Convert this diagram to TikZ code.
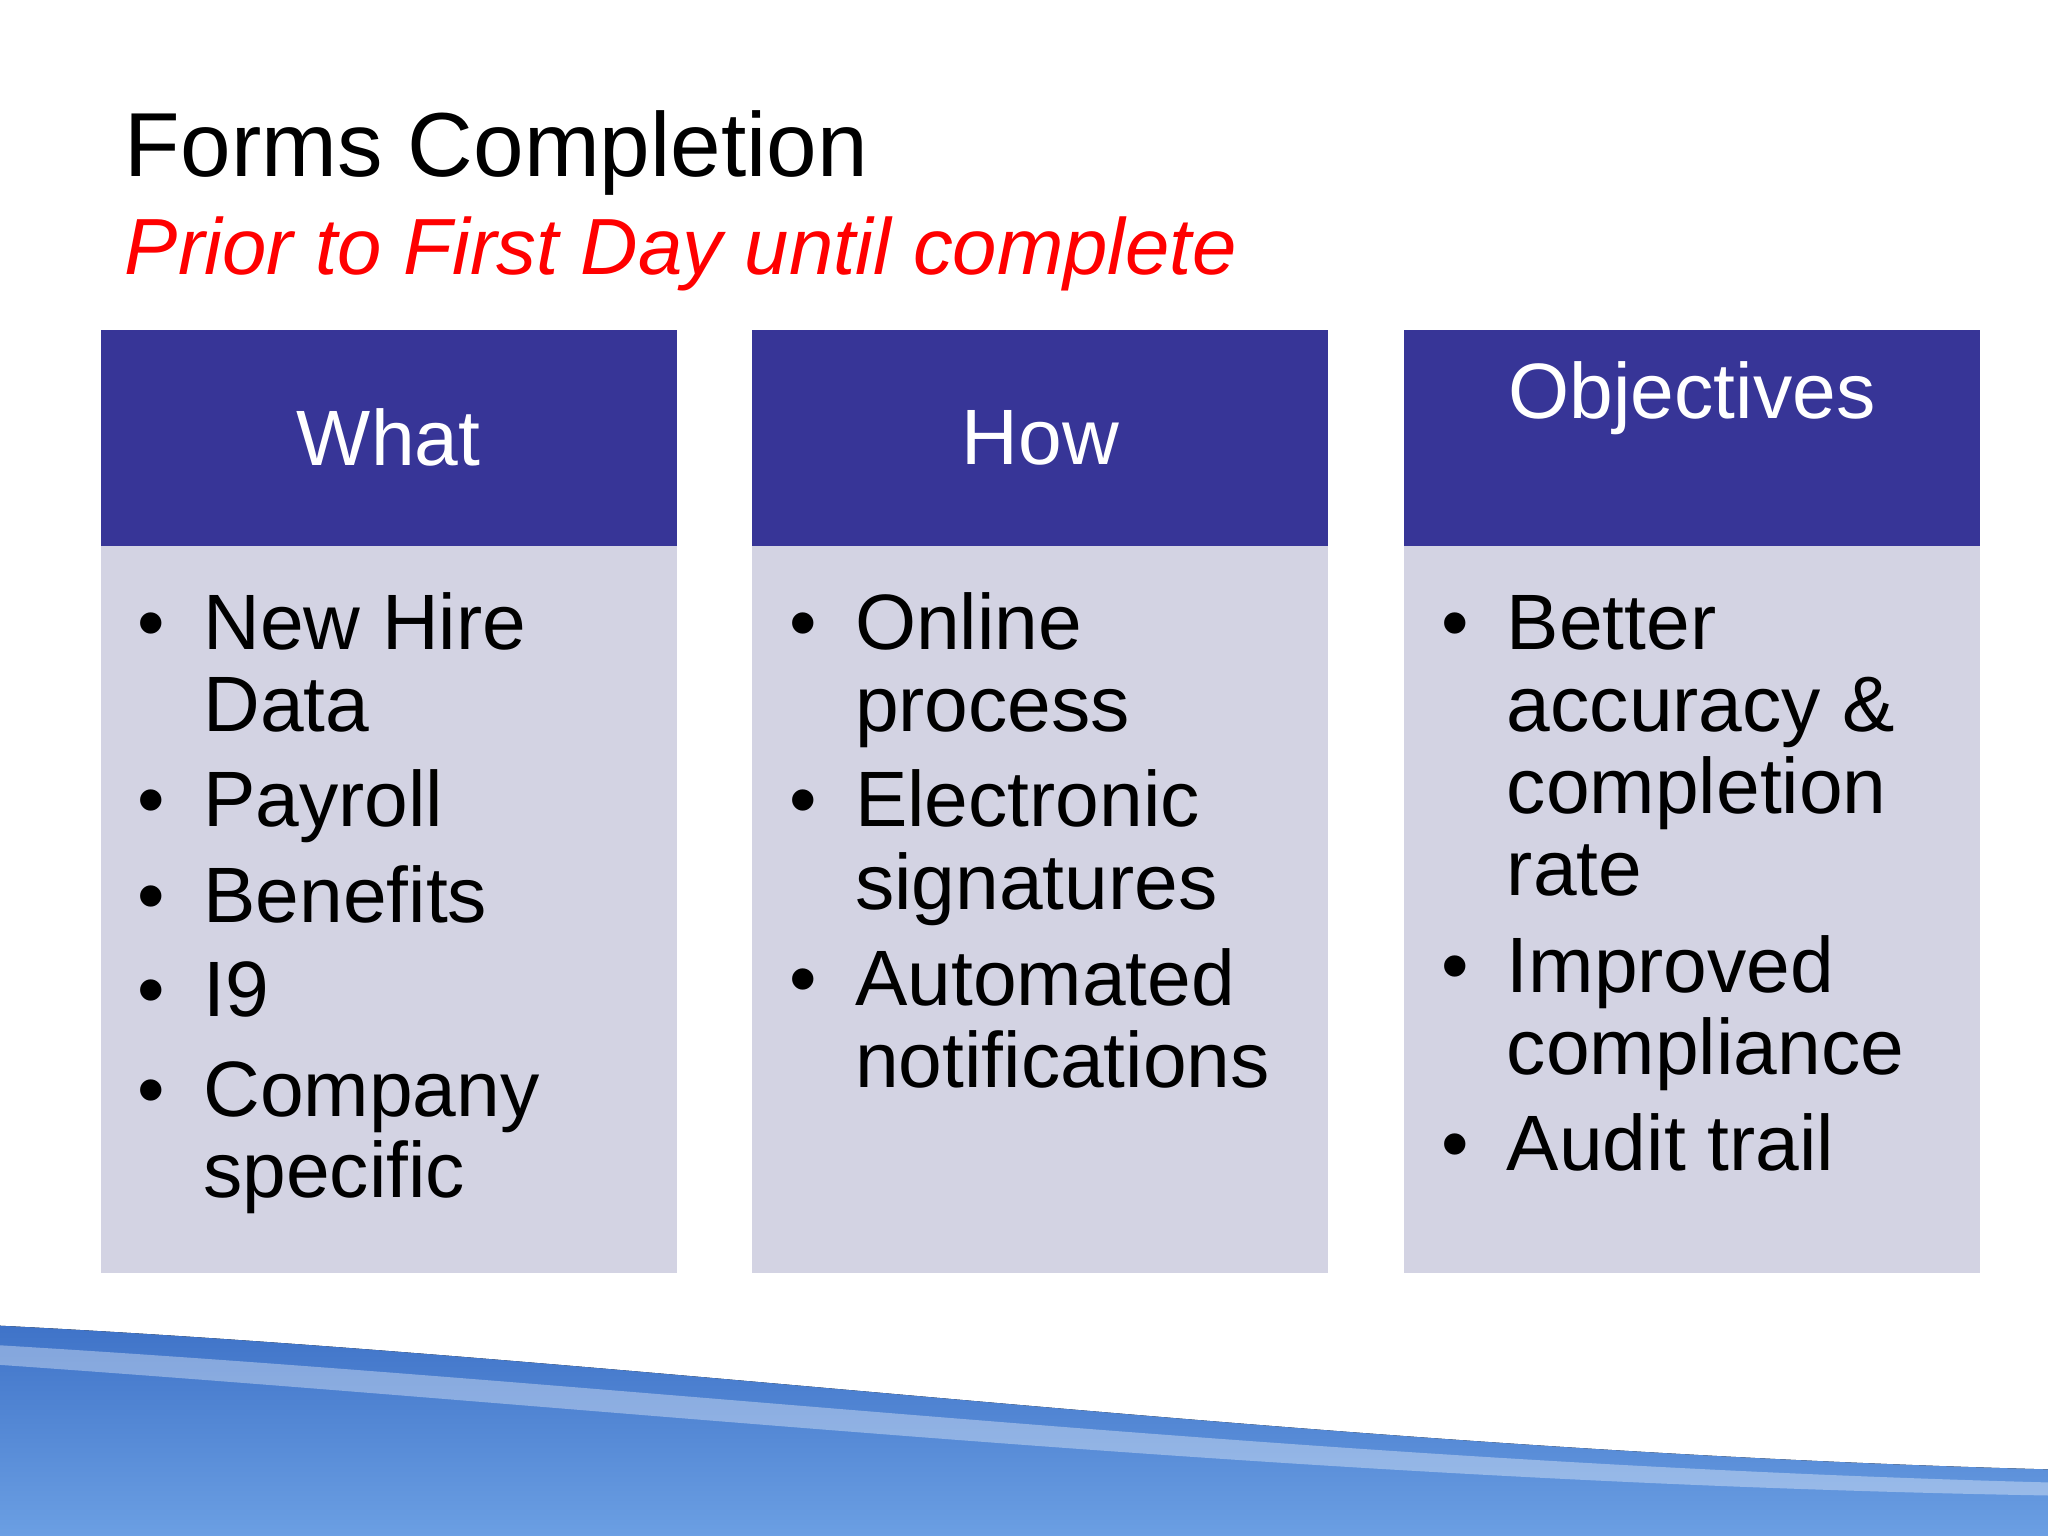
\documentclass[tikz,border=0pt]{standalone}
\usepackage{fontspec}
\setmainfont{Liberation Sans}
\definecolor{hdr}{HTML}{373597}
\definecolor{bodyc}{HTML}{D3D3E3}
\definecolor{wave1}{HTML}{3F73C8}
\definecolor{wave2}{HTML}{6B9FE3}
\begin{document}
\begin{tikzpicture}[x=0.01cm,y=-0.01cm,
  hbox/.style={fill=hdr,draw=none},
  bbox/.style={fill=bodyc,draw=none},
  htext/.style={text=white,font=\fontsize{17.1}{20}\selectfont},
  item/.style={anchor=base west,inner sep=0pt,font=\fontsize{17.1}{20}\selectfont},
  dot/.style={anchor=base,inner sep=0pt,font=\fontsize{17.1}{20}\selectfont}]
\useasboundingbox (0,0) rectangle (1568,1176);
% wave
\fill[top color=wave1,bottom color=wave2] (0,1015) .. controls (500,1040) and (1000,1110) .. (1568,1125) -- (1568,1176) -- (0,1176) -- cycle;
\fill[white,opacity=0.35] (0,1030) .. controls (500,1060) and (1000,1120) .. (1568,1135) -- (1568,1145) .. controls (1000,1135) and (500,1080) .. (0,1045) -- cycle;
% title
\node[anchor=base west,inner sep=0pt,font=\fontsize{19.8}{22}\selectfont] (title) at (95,135) {Forms Completion};
\node[anchor=base west,inner sep=0pt,text=red,font=\fontsize{17.35}{20}\selectfont\itshape] (sub) at (95,210) {Prior to First Day until complete};
% columns
\foreach \x/\n in {77/a,576/b,1075/c}{
  \fill[bbox] (\x,418) rectangle ++(441,557);
  \fill[hbox] (\x,253) rectangle ++(441,165);
}
\node[htext] (ha) at (297.5,335) {What};
\node[htext] (hb) at (796.5,335) {How};
\node[htext] (hc) at (1295.5,305) {Objectives};
% What
\node[dot] (a1) at (116,497) {•};
\node[item] (t1) at (155,497) {New Hire};
\node[item] (t2) at (155,560) {Data};
\node[dot] (a2) at (116,633) {•};
\node[item] (t3) at (155,633) {Payroll};
\node[dot] (a3) at (116,706) {•};
\node[item] (t4) at (155,706) {Benefits};
\node[dot] (a4) at (116,778) {•};
\node[item] (t5) at (155,778) {I9};
\node[dot] (a5) at (116,855) {•};
\node[item] (t6) at (155,855) {Company};
\node[item] (t7) at (155,917) {specific};
% How
\node[dot] (b1) at (615,497) {•};
\node[item] (u1) at (654,497) {Online};
\node[item] (u2) at (654,560) {process};
\node[dot] (b2) at (615,633) {•};
\node[item] (u3) at (654,633) {Electronic};
\node[item] (u4) at (654,696) {signatures};
\node[dot] (b3) at (615,770) {•};
\node[item] (u5) at (654,770) {Automated};
\node[item] (u6) at (654,833) {notifications};
% Objectives
\node[dot] (c1) at (1114,497) {•};
\node[item] (v1) at (1153,497) {Better};
\node[item] (v2) at (1153,560) {accuracy \&};
\node[item] (v3) at (1153,623) {completion};
\node[item] (v4) at (1153,686) {rate};
\node[dot] (c2) at (1114,760) {•};
\node[item] (v5) at (1153,760) {Improved};
\node[item] (v6) at (1153,823) {compliance};
\node[dot] (c3) at (1114,896) {•};
\node[item] (v7) at (1153,896) {Audit trail};
\end{tikzpicture}
\end{document}
